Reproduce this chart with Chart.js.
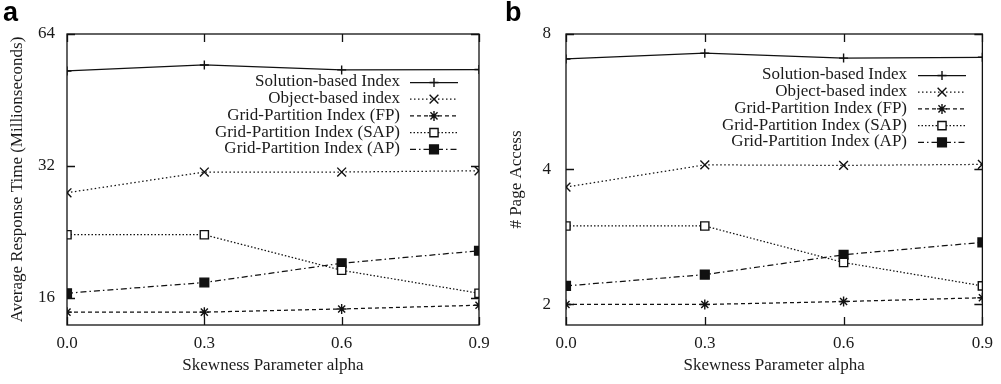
<!DOCTYPE html>
<html>
<head>
<meta charset="utf-8">
<script src="https://cdn.jsdelivr.net/npm/chart.js@4.4.1/dist/chart.umd.min.js"></script>
<style>
  html, body { margin: 0; padding: 0; background: #fff; }
  #wrap { position: relative; width: 1001px; height: 384px; overflow: hidden; }
  .panel { position: absolute; top: 0; height: 384px; }
  #pa { left: 0; width: 500px; }
  #pb { left: 500px; width: 501px; }
</style>
</head>
<body>
<div id="wrap">
  <div class="panel" id="pa"><canvas id="chartA"></canvas></div>
  <div class="panel" id="pb"><canvas id="chartB"></canvas></div>
</div>
<script>
// Skewness parameter values on the x axis
const alphas = [0.0, 0.3, 0.6, 0.9];
const alphaTicks = [0.0, 0.3, 0.6, 0.9];

const seriesNames = [
  'Solution-based Index',
  'Object-based index',
  'Grid-Partition Index (FP)',
  'Grid-Partition Index (SAP)',
  'Grid-Partition Index (AP)'
];

// (a) average response time, milliseconds
const timeSolution = [52.7, 54.4, 53.0, 53.1];
const timeObject   = [27.8, 31.0, 31.0, 31.2];
const timeFP       = [14.85, 14.85, 15.1, 15.4];
const timeSAP      = [22.3, 22.3, 18.5, 16.4];
const timeAP       = [16.4, 17.35, 19.2, 20.5];
const timeTicks    = [16, 32, 64];

// (b) number of page accesses
const pageSolution = [7.04, 7.25, 7.07, 7.1];
const pageObject   = [3.65, 4.09, 4.08, 4.1];
const pageFP       = [2.0, 2.0, 2.03, 2.07];
const pageSAP      = [2.99, 2.99, 2.48, 2.2];
const pageAP       = [2.2, 2.33, 2.58, 2.75];
const pageTicks    = [2, 4, 8];

const INK = '#111';
const TEXT = '#1a1a1a';
const SERIF = '"Liberation Serif", "Times New Roman", serif';
const FONT_PX = 17;

// line / marker look of each series
const styles = [
  { dash: [],              pointStyle: 'cross',    radius: 4.5, fill: INK },
  { dash: [1.5, 2.5],      pointStyle: 'crossRot', radius: 6.2, fill: INK },
  { dash: [4, 3],          pointStyle: 'star',     radius: 5,   fill: INK },
  { dash: [1.5, 2],        pointStyle: 'rect',     radius: 5.8, fill: '#fff' },
  { dash: [6, 3, 1.5, 3],  pointStyle: 'rect',     radius: 6.2, fill: INK }
];

function buildDatasets(seriesList) {
  return seriesList.map((vals, i) => ({
    label: seriesNames[i],
    data: alphas.map((a, k) => ({ x: a, y: vals[k] })),
    borderColor: INK,
    borderWidth: 1.25,
    borderDash: styles[i].dash,
    pointStyle: styles[i].pointStyle,
    pointRadius: styles[i].radius,
    pointBorderColor: INK,
    pointBorderWidth: 1.4,
    pointBackgroundColor: styles[i].fill,
    tension: 0,
    fill: false
  }));
}

// frame, inward tick marks, axis titles, panel letter and the key
const decorPlugin = {
  id: 'decor',
  afterDatasetsDraw(chart, args, o) {
    const ctx = chart.ctx;
    const a = chart.chartArea;
    const xs = chart.scales.x, ys = chart.scales.y;
    ctx.save();
    ctx.strokeStyle = INK;
    ctx.lineWidth = 1.3;
    ctx.setLineDash([]);
    ctx.strokeRect(a.left, a.top, a.right - a.left, a.bottom - a.top);
    const tl = 8;
    ctx.beginPath();
    o.xTicks.forEach(v => {
      const px = Math.round(xs.getPixelForValue(v)) + 0.5;
      ctx.moveTo(px, a.bottom); ctx.lineTo(px, a.bottom - tl);
      ctx.moveTo(px, a.top); ctx.lineTo(px, a.top + tl);
    });
    o.yTicks.forEach(v => {
      const py = Math.round(ys.getPixelForValue(v)) + 0.5;
      ctx.moveTo(a.left, py); ctx.lineTo(a.left + tl, py);
      ctx.moveTo(a.right, py); ctx.lineTo(a.right - tl, py);
    });
    ctx.stroke();

    // key
    ctx.font = FONT_PX + 'px ' + SERIF;
    ctx.fillStyle = TEXT;
    ctx.textBaseline = 'middle';
    ctx.textAlign = 'right';
    chart.data.datasets.forEach((ds, i) => {
      const y = o.keyTop + i * o.keyStep;
      ctx.fillText(ds.label, o.keyText, y);
      ctx.save();
      ctx.strokeStyle = INK;
      ctx.lineWidth = ds.borderWidth;
      ctx.setLineDash(ds.borderDash);
      ctx.beginPath();
      ctx.moveTo(o.keyLine[0], y + 0.5);
      ctx.lineTo(o.keyLine[1], y + 0.5);
      ctx.stroke();
      ctx.setLineDash([]);
      ctx.fillStyle = ds.pointBackgroundColor;
      ctx.strokeStyle = INK;
      ctx.lineWidth = ds.pointBorderWidth;
      Chart.helpers.drawPoint(ctx, {
        pointStyle: ds.pointStyle, radius: ds.pointRadius, rotation: 0, borderWidth: ds.pointBorderWidth
      }, (o.keyLine[0] + o.keyLine[1]) / 2, y + 0.5);
      ctx.restore();
    });

    // axis titles
    ctx.fillStyle = TEXT;
    ctx.textAlign = 'center';
    ctx.textBaseline = 'middle';
    ctx.fillText(o.xTitle, (a.left + a.right) / 2, o.xTitleY);
    ctx.save();
    ctx.translate(o.yTitleX, (a.top + a.bottom) / 2);
    ctx.rotate(-Math.PI / 2);
    ctx.fillText(o.yTitle, 0, 0);
    ctx.restore();

    // panel letter
    ctx.font = 'bold 27px "Liberation Sans", Arial, sans-serif';
    ctx.fillStyle = '#000';
    ctx.textAlign = 'left';
    ctx.textBaseline = 'alphabetic';
    ctx.fillText(o.letter, o.letterX, 21);
    ctx.restore();
  }
};

function makeChart(id, seriesList, yMin, yMax, yTicks, pad, yAxisW, yLabelPad, decor) {
  return new Chart(document.getElementById(id), {
    type: 'line',
    data: { datasets: buildDatasets(seriesList) },
    plugins: [decorPlugin],
    options: {
      responsive: true,
      maintainAspectRatio: false,
      animation: false,
      events: [],
      layout: { padding: pad },
      plugins: { legend: { display: false }, tooltip: { enabled: false }, decor: decor },
      scales: {
        x: {
          type: 'linear',
          min: 0, max: 0.9,
          afterBuildTicks: s => { s.ticks = alphaTicks.map(v => ({ value: v })); },
          afterFit: s => { s.height = 59; },
          grid: { display: false, drawTicks: false },
          border: { display: false },
          ticks: {
            padding: 8,
            color: TEXT,
            font: { family: SERIF, size: FONT_PX },
            maxRotation: 0,
            callback: v => Number(v).toFixed(1)
          }
        },
        y: {
          type: 'logarithmic',
          min: yMin, max: yMax,
          afterBuildTicks: s => { s.ticks = yTicks.map(v => ({ value: v })); },
          afterFit: s => { s.width = yAxisW; },
          grid: { display: false, drawTicks: false },
          border: { display: false },
          ticks: {
            padding: yLabelPad,
            color: TEXT,
            font: { family: SERIF, size: FONT_PX },
            callback: v => String(v)
          }
        }
      }
    }
  });
}

makeChart('chartA',
  [timeSolution, timeObject, timeFP, timeSAP, timeAP],
  13.88, 64, timeTicks,
  { left: 0, top: 34, right: 21, bottom: 0 }, 67, 12,
  {
    xTicks: alphaTicks, yTicks: timeTicks,
    keyTop: 82, keyStep: 16.7, keyText: 400, keyLine: [410, 458],
    xTitle: 'Skewness Parameter alpha', xTitleY: 366,
    yTitle: 'Average Response Time (Millionseconds)', yTitleX: 18,
    letter: 'a', letterX: 3
  });

makeChart('chartB',
  [pageSolution, pageObject, pageFP, pageSAP, pageAP],
  1.8, 8, pageTicks,
  { left: 0, top: 34, right: 13, bottom: 0 }, 66, 15,
  {
    xTicks: alphaTicks, yTicks: pageTicks,
    keyTop: 75, keyStep: 16.7, keyText: 407, keyLine: [418, 466],
    xTitle: 'Skewness Parameter alpha', xTitleY: 366,
    yTitle: '# Page Access', yTitleX: 17,
    letter: 'b', letterX: 5
  });
</script>
</body>
</html>
